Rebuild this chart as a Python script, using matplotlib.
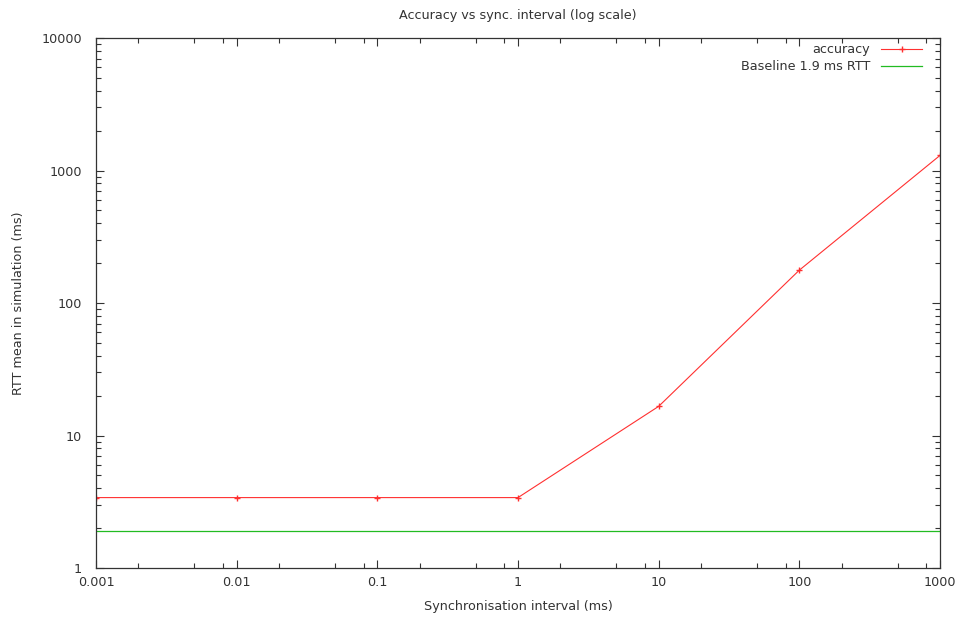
import matplotlib
matplotlib.use('Agg')
import matplotlib.pyplot as plt
from matplotlib.ticker import LogLocator, FixedLocator, FixedFormatter, NullFormatter

#=====================================================

intervals = [0.001, 0.01, 0.1, 1, 10, 100, 1000]
rtt_mean = [3.4, 3.4, 3.4, 3.4, 16.6, 177, 1300]
baseline = 1.9

xtick_vals = [0.001, 0.01, 0.1, 1, 10, 100, 1000]
xtick_labels = ['0.001', '0.01', '0.1', '1', '10', '100', '1000']
ytick_vals = [1, 10, 100, 1000, 10000]
ytick_labels = ['1', '10', '100', '1000', '10000']

#=====================================================

def main():

    plt.rcParams['font.family'] = ['DejaVu Sans']
    plt.rcParams['font.size'] = 9.2
    plt.rcParams['text.color'] = '#333333'
    plt.rcParams['axes.labelcolor'] = '#333333'
    plt.rcParams['xtick.labelcolor'] = '#333333'
    plt.rcParams['ytick.labelcolor'] = '#333333'

    fig = plt.figure(figsize=(9.59, 6.17), dpi=100)
    ax = fig.add_axes([0.1001, 0.0794, 0.8801, 0.8590])

    ax.plot(intervals, rtt_mean, color='#ff3030', linewidth=0.8, marker='+',
            markersize=5, markeredgewidth=1.0, label='accuracy')
    ax.axhline(baseline, color='#22bb22', linewidth=0.9, label='Baseline 1.9 ms RTT')

    ax.set_xscale('log')
    ax.set_yscale('log')
    ax.set_xlim(0.001, 1000)
    ax.set_ylim(1, 10000)

    ax.xaxis.set_major_locator(FixedLocator(xtick_vals))
    ax.xaxis.set_major_formatter(FixedFormatter(xtick_labels))
    ax.yaxis.set_major_locator(FixedLocator(ytick_vals))
    ax.yaxis.set_major_formatter(FixedFormatter(ytick_labels))
    ax.xaxis.set_minor_locator(LogLocator(base=10, subs=(2, 5, 8), numticks=20))
    ax.yaxis.set_minor_locator(LogLocator(base=10, subs=(2, 3, 4, 5, 6, 7, 8, 9), numticks=20))
    ax.xaxis.set_minor_formatter(NullFormatter())
    ax.yaxis.set_minor_formatter(NullFormatter())

    ax.tick_params(which='both', direction='in', top=True, right=True, color='#333333')
    ax.tick_params(which='major', length=6, width=0.8)
    ax.tick_params(which='minor', length=3.5, width=0.8)
    ax.tick_params(axis='y', pad=10)
    ax.tick_params(axis='x', pad=6)
    for s in ax.spines.values():
        s.set_color('#333333')
        s.set_linewidth(0.9)

    ax.set_title('Accuracy vs sync. interval (log scale)', fontsize=9.2, pad=14)
    ax.set_xlabel('Synchronisation interval (ms)', labelpad=7.5)
    ax.set_ylabel('RTT mean in simulation (ms)', labelpad=12)

    leg = ax.legend(loc='upper right', bbox_to_anchor=(0.9787, 0.990),
                    frameon=False, markerfirst=False, borderaxespad=0,
                    borderpad=0, handlelength=3.2, labelspacing=0.3,
                    handletextpad=0.85)
    for t in leg.get_texts():
        t.set_ha('right')

    fig.savefig('out.png', dpi=100)

    return

#=====================================================

if __name__ == '__main__':
    main()
